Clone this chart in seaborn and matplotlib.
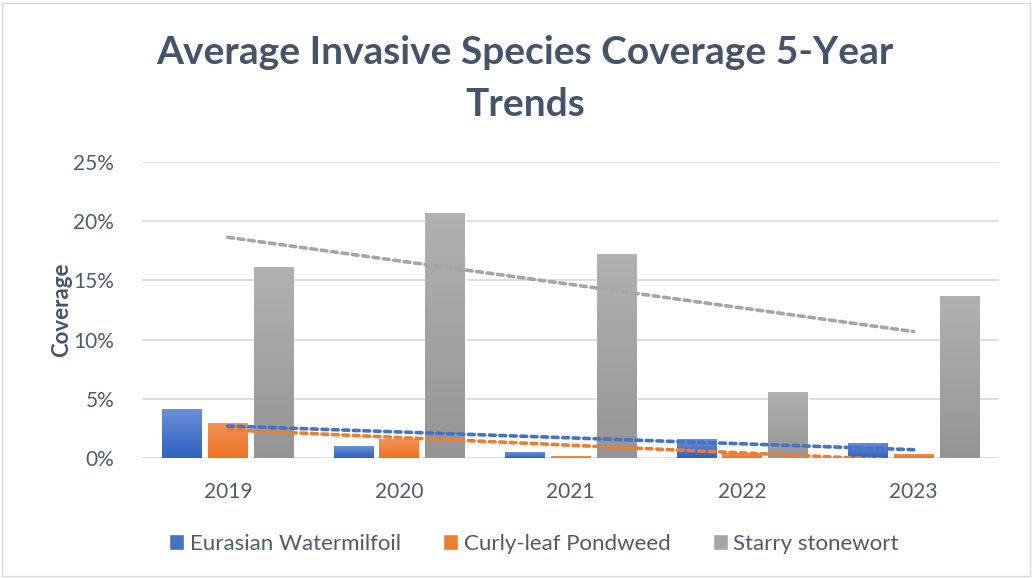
import numpy as np
import pandas as pd
import matplotlib
matplotlib.use("Agg")
import matplotlib.pyplot as plt
from matplotlib.patches import Rectangle
from matplotlib.colors import LinearSegmentedColormap
from matplotlib.ticker import PercentFormatter
import seaborn as sns

years = ["2019", "2020", "2021", "2022", "2023"]
series_names = ["Eurasian Watermilfoil", "Curly-leaf Pondweed", "Starry stonewort"]
watermilfoil = [4.1, 1.0, 0.5, 1.6, 1.3]
pondweed = [2.95, 1.6, 0.15, 0.4, 0.3]
stonewort = [16.1, 20.7, 17.2, 5.6, 13.7]
colors = ["#4472C4", "#ED7D31", "#A5A5A5"]
# light (top) and dark (bottom) shades for the bar fills
grad_top = ["#6B8FD8", "#F3925A", "#B1B1B1"]
grad_bottom = ["#2F61BE", "#ED7220", "#959595"]

text_color = "#44546A"
tick_color = "#4F5B6D"

sns.set_theme(style="white")
plt.rcParams["font.family"] = ["Lato", "DejaVu Sans"]

df = pd.DataFrame({
    "Year": years * 3,
    "Species": [s for s in series_names for _ in years],
    "Coverage": watermilfoil + pondweed + stonewort,
})

fig = plt.figure(figsize=(10.33, 5.78), dpi=100)
ax = fig.add_axes([0.1375, 0.2076, 0.83, 0.5121])

sns.barplot(data=df, x="Year", y="Coverage", hue="Species", order=years,
            hue_order=series_names, palette=colors, width=0.8, gap=0.13,
            saturation=1, ax=ax, legend=True, zorder=3)

ax.set_ylim(0, 25)
ax.set_xlim(-0.5, 4.5)

# vertical gradient fill for every bar, clipped to the bar shape
bars = [p for p in ax.patches if isinstance(p, Rectangle) and p.get_height() > 0]
grad = np.linspace(1, 0, 256).reshape(-1, 1)
for i, bar in enumerate(bars):
    k = i // len(years)
    cmap = LinearSegmentedColormap.from_list(f"g{i}", [grad_bottom[k], grad_top[k]])
    x0, w, h = bar.get_x(), bar.get_width(), bar.get_height()
    img = ax.imshow(grad, extent=(x0, x0 + w, 0, h), cmap=cmap, vmin=0, vmax=1,
                    aspect="auto", zorder=3.2, interpolation="bilinear")
    img.set_clip_path(bar)
ax.set_xlim(-0.5, 4.5)
ax.set_ylim(0, 25)

idx = np.arange(len(years))
for vals, c in zip([watermilfoil, pondweed, stonewort], colors):
    sns.regplot(x=idx, y=np.array(vals), scatter=False, ci=None, ax=ax,
                color=c, truncate=True,
                line_kws=dict(lw=2.6, ls=(0, (1.6, 1.3)),
                              dash_capstyle="round", zorder=4))
ax.set_xlim(-0.5, 4.5)
ax.set_ylim(0, 25)

ax.set_yticks([0, 5, 10, 15, 20, 25])
ax.yaxis.set_major_formatter(PercentFormatter(decimals=0))
ax.yaxis.grid(True, color="#D9D9D9", lw=1.2, zorder=0)
ax.set_axisbelow(True)
for s in ax.spines.values():
    s.set_visible(False)
ax.tick_params(axis="both", length=0, labelsize=15, colors=tick_color)
ax.tick_params(axis="x", pad=17)
ax.tick_params(axis="y", pad=20)
ax.set_xlabel("")
ax.set_ylabel("Coverage", fontsize=16, fontweight="bold", color=text_color,
              labelpad=1)

ax.legend(loc="center", bbox_to_anchor=(0.457, -0.29), ncol=3,
          frameon=False, fontsize=16, handlelength=0.68, handleheight=0.68,
          handletextpad=0.25, columnspacing=1.9, labelcolor=tick_color)

fig.suptitle("Average Invasive Species Coverage 5-Year\nTrends", x=0.508,
             y=0.94, va="top", fontsize=28, fontweight="bold", color=text_color,
             linespacing=1.6)

fig.patches.append(Rectangle((0.002, 0.004), 0.995, 0.99, transform=fig.transFigure,
                             fill=False, edgecolor="#D9D9D9", lw=1))

fig.savefig("out.png", dpi=100)
